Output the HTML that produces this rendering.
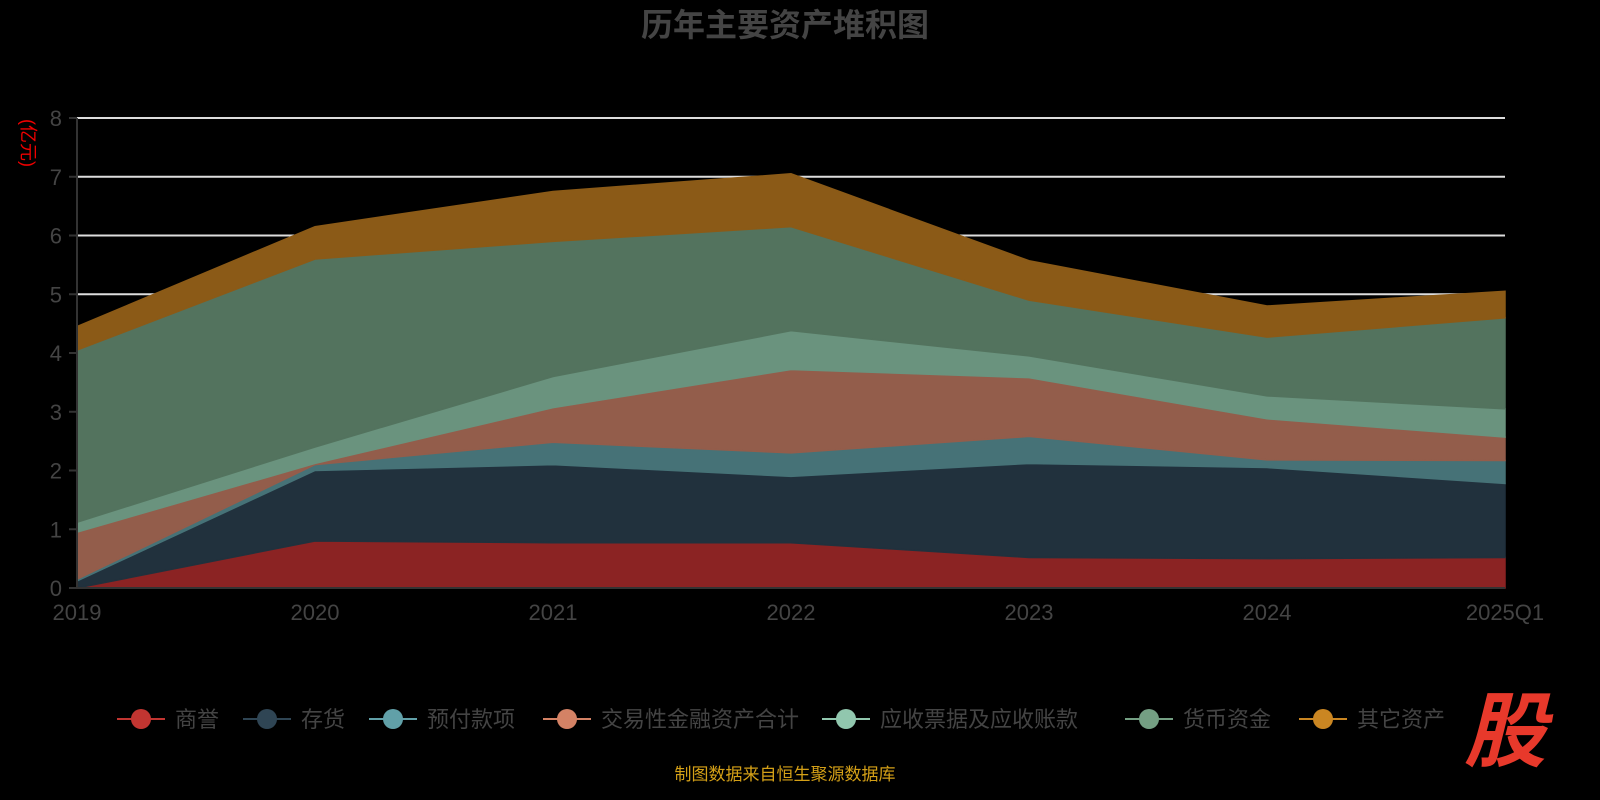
<!DOCTYPE html>
<html><head><meta charset="utf-8"><style>
body{margin:0;background:#000;width:1600px;height:800px;overflow:hidden;font-family:"Liberation Sans","Noto Sans CJK SC",sans-serif}
</style></head><body>
<svg id="c" width="1600" height="800" style="position:absolute;left:0;top:0">
<text x="785" y="36" text-anchor="middle" font-size="32" font-weight="bold" fill="#444" font-family="Liberation Sans,Noto Sans CJK SC,sans-serif">历年主要资产堆积图</text>
<text transform="translate(22,143) rotate(90)" text-anchor="middle" font-size="18" fill="#e00" font-family="Liberation Sans,Noto Sans CJK SC,sans-serif">(亿元)</text>
<g id="grid"></g><g id="areas"></g><g id="axes"></g><g id="legend"></g>
<text x="785" y="780" text-anchor="middle" font-size="17" fill="#d4a017" font-family="Liberation Sans,Noto Sans CJK SC,sans-serif">制图数据来自恒生聚源数据库</text>
<text x="1505" y="760" text-anchor="middle" font-size="82" font-weight="bold" font-style="italic" fill="#e8392b" font-family="Noto Sans CJK SC,sans-serif">股</text>
</svg>
<script>
const categories=["2019","2020","2021","2022","2023","2024","2025Q1"];
const seriesNames=["商誉","存货","预付款项","交易性金融资产合计","应收票据及应收账款","货币资金","其它资产"];
const goodwill=[0,0.8,0.77,0.77,0.52,0.5,0.52];
const inventory=[0.12,1.2,1.33,1.13,1.6,1.55,1.26];
const prepay=[0.03,0.1,0.38,0.4,0.46,0.13,0.39];
const tradingAssets=[0.8,0.02,0.59,1.42,1.0,0.7,0.4];
const receivables=[0.17,0.28,0.53,0.66,0.37,0.39,0.48];
const cash=[2.93,3.2,2.3,1.77,0.95,1.0,1.55];
const other=[0.4,0.55,0.85,0.9,0.67,0.53,0.45];
const yTicks=[0,1,2,3,4,5,6,7,8];
const series=[goodwill,inventory,prepay,tradingAssets,receivables,cash,other];
const areaColors=["#8b2323","#21313d","#467277","#935d4b","#6a937e","#53735e","#8b5a17"];
const legendColors=["#c23531","#2f4554","#61a0a8","#d48265","#91c7ae","#749f83","#ca8622"];
const NS="http://www.w3.org/2000/svg";
const x0=77,x1=1505,y0=588,yTop=118;
const X=i=>x0+(x1-x0)*i/(categories.length-1);
const Y=v=>y0-(y0-yTop)*v/8;
function mk(t,a,p){const e=document.createElementNS(NS,t);for(const k in a)e.setAttribute(k,a[k]);p.appendChild(e);return e;}
const grid=document.getElementById('grid'),areas=document.getElementById('areas'),axes=document.getElementById('axes'),legend=document.getElementById('legend');
yTicks.forEach(v=>{
 if(v>0){const l=mk('line',{x1:x0,x2:x1,y1:Y(v),y2:Y(v),stroke:'#ddd','stroke-width':2},grid);
 
 }
 const tk=mk('line',{x1:x0-8,x2:x0,y1:Y(v),y2:Y(v),stroke:'#333','stroke-width':2},axes);
 
 
 const t=mk('text',{x:x0-15,y:Y(v)+8,'text-anchor':'end','font-size':22,fill:'#444'},axes);t.textContent=v;
 
 
});
let base=categories.map(()=>0);
series.forEach((s,k)=>{
 const top=base.map((b,i)=>b+s[i]);
 let d='M'+top.map((v,i)=>X(i)+','+Y(v)).join('L');
 for(let i=categories.length-1;i>=0;i--)d+='L'+X(i)+','+Y(base[i]);
 const p=mk('path',{d:d+'Z',fill:areaColors[k],stroke:areaColors[k],'stroke-width':1.5},areas);
 
 
 base=top;
});
const ax=mk('line',{x1:x0,x2:x0,y1:yTop,y2:y0,stroke:'#333','stroke-width':2},axes);


const xa=mk('line',{x1:x0,x2:x1,y1:y0,y2:y0,stroke:'#333','stroke-width':2},axes);


categories.forEach((c,i)=>{
 const t=mk('text',{x:X(i),y:620,'text-anchor':'middle','font-size':22,fill:'#444'},axes);t.textContent=c;
 
 
});
const lx=[117,243,369,543,822,1125,1299];
seriesNames.forEach((n,k)=>{
 const g=mk('g',{},legend);
 
 
 mk('line',{x1:lx[k],x2:lx[k]+48,y1:719,y2:719,stroke:legendColors[k],'stroke-width':2},g);
 mk('circle',{cx:lx[k]+24,cy:719,r:10,fill:legendColors[k]},g);
 const t=mk('text',{x:lx[k]+58,y:727,'font-size':22,fill:'#444','font-family':'Liberation Sans,Noto Sans CJK SC,sans-serif'},g);t.textContent=n;
});
</script>
</body></html>
